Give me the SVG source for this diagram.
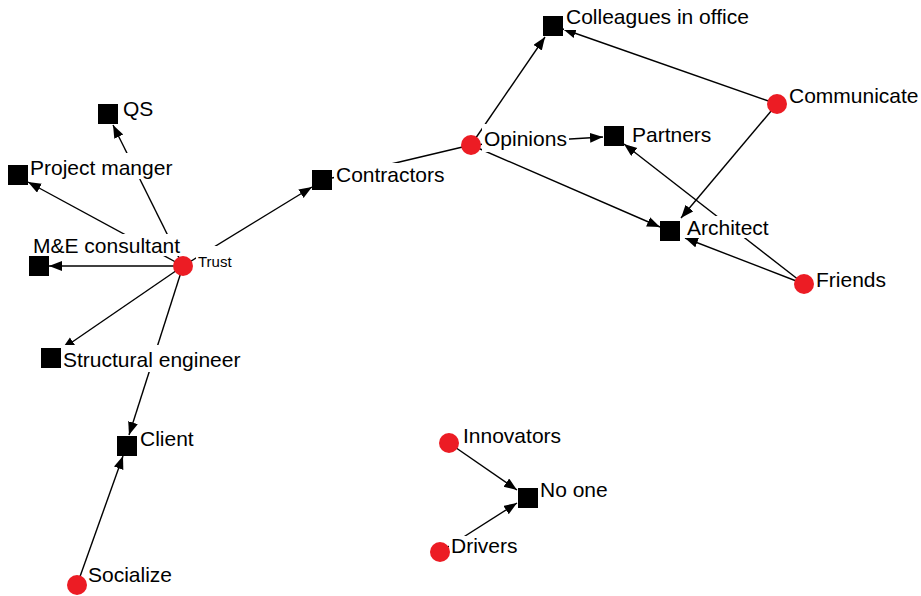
<svg xmlns="http://www.w3.org/2000/svg" width="921" height="596" viewBox="0 0 921 596">
<style>
.e{stroke:#000;stroke-width:1.4;fill:none}
.a{marker-end:url(#arr)}
.sq{fill:#000}
.ci{fill:#ec1c24}
.bg{fill:#fff}
.t{font-family:"Liberation Sans",Arial,Helvetica,sans-serif;font-size:21px;fill:#000}
.ts{font-family:"Liberation Sans",Arial,Helvetica,sans-serif;font-size:15px;fill:#000}
</style>
<defs>
<marker id="arr" markerUnits="userSpaceOnUse" markerWidth="14" markerHeight="11" refX="13" refY="5" orient="auto">
<path d="M0,0 L13,5 L0,10 z" fill="#000"/>
</marker>
</defs>
<rect width="921" height="596" fill="#fff"/>
<g id="edges">
<line class="e a" x1="183" y1="266" x2="113" y2="125"/>
<line class="e a" x1="183" y1="266" x2="28" y2="182"/>
<line class="e a" x1="183" y1="266" x2="49" y2="266"/>
<line class="e a" x1="183" y1="266" x2="312" y2="187"/>
<line class="e a" x1="183" y1="266" x2="62" y2="349"/>
<line class="e a" x1="183" y1="266" x2="129" y2="435"/>
<line class="e a" x1="77" y1="585" x2="123" y2="456"/>
<line class="e" x1="471" y1="145" x2="332" y2="178"/>
<line class="e a" x1="471" y1="145" x2="545" y2="37"/>
<line class="e a" x1="471" y1="145" x2="603" y2="137"/>
<line class="e a" x1="471" y1="145" x2="660" y2="227"/>
<line class="e a" x1="777" y1="104" x2="563" y2="29"/>
<line class="e a" x1="777" y1="104" x2="681" y2="218"/>
<line class="e a" x1="804" y1="284" x2="624" y2="144"/>
<line class="e a" x1="804" y1="284" x2="685" y2="238"/>
<line class="e a" x1="449" y1="443" x2="517" y2="490"/>
<line class="e a" x1="440" y1="552" x2="517" y2="503"/>
</g>
<g id="n-qs"><rect class="bg" x="121" y="97" width="34" height="23"/><rect class="sq" x="98" y="104" width="20" height="20"/><text class="t" x="123" y="116">QS</text></g>
<g id="n-pm"><rect class="bg" x="28" y="153" width="147" height="26"/><rect class="sq" x="8" y="165" width="20" height="20"/><text class="t" x="30" y="175">Project manger</text></g>
<g id="n-me"><rect class="bg" x="31" y="234" width="151" height="22"/><rect class="sq" x="29" y="256" width="20" height="20"/><text class="t" x="33" y="253">M&amp;E consultant</text></g>
<g id="n-trust"><rect class="bg" x="196" y="246" width="38" height="25"/><circle class="ci" cx="183" cy="266" r="10"/><text class="ts" x="198" y="267">Trust</text></g>
<g id="n-contractors"><rect class="bg" x="334" y="163" width="113" height="23"/><rect class="sq" x="312" y="170" width="20" height="20"/><text class="t" x="336" y="182">Contractors</text></g>
<g id="n-opinions"><rect class="bg" x="482" y="124" width="87" height="28"/><circle class="ci" cx="471" cy="145" r="10"/><text class="t" x="484" y="146">Opinions</text></g>
<g id="n-colleagues"><rect class="bg" x="564" y="2" width="188" height="28"/><rect class="sq" x="543" y="16" width="20" height="20"/><text class="t" x="566" y="24">Colleagues in office</text></g>
<g id="n-partners"><rect class="bg" x="630" y="123" width="83" height="23"/><rect class="sq" x="604" y="126" width="20" height="20"/><text class="t" x="632" y="142">Partners</text></g>
<g id="n-communicate"><rect class="bg" x="787" y="84" width="134" height="23"/><circle class="ci" cx="777" cy="104" r="10"/><text class="t" x="789" y="103">Communicate</text></g>
<g id="n-architect"><rect class="bg" x="685" y="216" width="86" height="22"/><rect class="sq" x="660" y="221" width="20" height="20"/><text class="t" x="687" y="235">Architect</text></g>
<g id="n-friends"><rect class="bg" x="814" y="268" width="74" height="23"/><circle class="ci" cx="804" cy="284" r="10"/><text class="t" x="816" y="287">Friends</text></g>
<g id="n-structural"><rect class="bg" x="61" y="345" width="184" height="27"/><rect class="sq" x="41" y="348" width="20" height="20"/><text class="t" x="63" y="367">Structural engineer</text></g>
<g id="n-client"><rect class="bg" x="138" y="427" width="60" height="23"/><rect class="sq" x="117" y="436" width="20" height="20"/><text class="t" x="140" y="446">Client</text></g>
<g id="n-socialize"><rect class="bg" x="86" y="563" width="90" height="27"/><circle class="ci" cx="77" cy="585" r="10"/><text class="t" x="88" y="582">Socialize</text></g>
<g id="n-innovators"><rect class="bg" x="461" y="424" width="102" height="23"/><circle class="ci" cx="449" cy="443" r="10"/><text class="t" x="463" y="443">Innovators</text></g>
<g id="n-noone"><rect class="bg" x="538" y="478" width="73" height="23"/><rect class="sq" x="518" y="488" width="20" height="20"/><text class="t" x="540" y="497">No one</text></g>
<g id="n-drivers"><rect class="bg" x="449" y="536" width="70" height="21"/><circle class="ci" cx="440" cy="552" r="10"/><text class="t" x="451" y="553">Drivers</text></g>
</svg>
